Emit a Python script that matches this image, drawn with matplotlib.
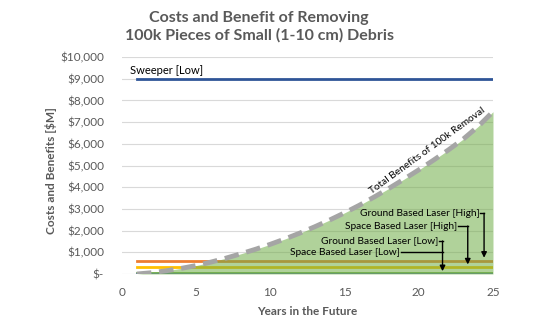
import numpy as np
import matplotlib
matplotlib.use("Agg")
import matplotlib.pyplot as plt

# ---------------- data ----------------
years = np.arange(1, 26)
benefits = [0, 60, 150, 260, 390, 550, 730, 930, 1140, 1370, 1620, 1890, 2180,
            2490, 2820, 3170, 3550, 3950, 4370, 4800, 5250, 5720, 6220, 6800, 7480]

sweeper_low = 9000
gbl_high = 600
sbl_high = 300
gbl_low = 50
sbl_low = 15

gray = "#595959"
plt.rcParams['font.family'] = ['Lato', 'DejaVu Sans']

fig = plt.figure(figsize=(5.48, 3.21), dpi=100)
ax = fig.add_axes([0.2226, 0.1464, 0.677, 0.676])

# constant cost lines (under the semi-transparent benefit area)
ax.plot([1, 25], [sweeper_low] * 2, color="#2F5597", lw=2, zorder=3)
ax.plot([1, 25], [gbl_high] * 2, color="#ED7D31", lw=2, zorder=2)
ax.plot([1, 25], [sbl_high] * 2, color="#FFC000", lw=2, zorder=2)
ax.plot([1, 25], [gbl_low] * 2, color="#70AD47", lw=2, zorder=2)
ax.plot([1, 25], [sbl_low] * 2, color="#5B7FA8", lw=2, zorder=2)

ax.fill_between(years, 0, benefits, color="#70AD47", alpha=0.55, lw=0, zorder=3)
ax.plot(years, benefits, color="#A5A5A5", lw=3.5, dashes=(3, 1.6), zorder=4)

ax.set_xlim(0, 25)
ax.set_ylim(0, 10000)
ax.set_xticks(range(0, 26, 5))
ax.set_yticks(range(0, 10001, 1000))
ax.set_yticklabels(["$-"] + ["${:,}".format(v) for v in range(1000, 10001, 1000)])
ax.tick_params(length=0, labelsize=8.5, labelcolor=gray)
ax.tick_params(axis="x", pad=9)
ax.tick_params(axis="y", pad=13)
ax.grid(axis="y", color="#D9D9D9", lw=0.8, zorder=0)
for s in ax.spines.values():
    s.set_visible(False)

ax.set_xlabel("Years in the Future", fontsize=8.5, fontweight="bold", color=gray, labelpad=6)
ax.set_ylabel("Costs and Benefits [$M]", fontsize=8.5, fontweight="bold", color=gray)
ax.yaxis.set_label_coords(-0.175, 0.475)
fig.text(0.473, 0.965, "Costs and Benefit of Removing\n100k Pieces of Small (1-10 cm) Debris",
         ha="center", va="top", fontsize=11.5, fontweight="bold", color=gray, linespacing=1.25)

# annotations
fs = 7.3
ax.text(0.55, 9370, "Sweeper [Low]", fontsize=8, va="center", ha="left", zorder=6)
ax.text(20.6, 5700, "Total Benefits of 100k Removal", fontsize=fs, rotation=36,
        rotation_mode="anchor", ha="center", va="center", zorder=6)

ann = [
    ("Ground Based Laser [High]", 24.1, 2800, 24.4, 750),
    ("Space Based Laser [High]", 22.6, 2210, 23.3, 440),
    ("Ground Based Laser [Low]", 21.3, 1520, 21.6, 130),
]
for label, tx, ty, cx, tip in ann:
    ax.text(tx, ty, label, fontsize=fs, ha="right", va="center", zorder=6)
    ax.plot([tx + 0.05, cx], [ty, ty], color="black", lw=1, zorder=6)
    ax.annotate("", xy=(cx, tip), xytext=(cx, ty),
                arrowprops=dict(arrowstyle="-|>", color="black", lw=1,
                                mutation_scale=8, shrinkA=0, shrinkB=0), zorder=6)
ax.text(18.7, 1000, "Space Based Laser [Low]", fontsize=fs, ha="right", va="center", zorder=6)
ax.plot([18.8, 21.6], [1000, 1000], color="black", lw=1, zorder=6)

fig.savefig("out.png", dpi=100)
